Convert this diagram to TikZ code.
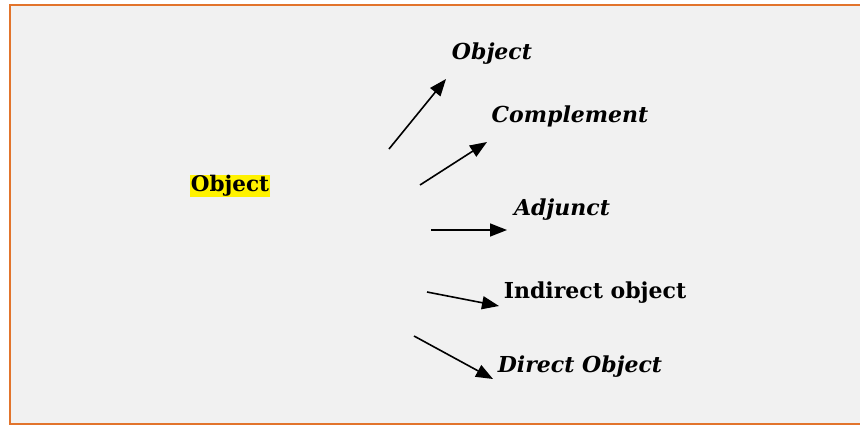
\documentclass[tikz,border=0pt]{standalone}
\usepackage{fontspec}
\setmainfont{DejaVu Serif}
\usetikzlibrary{arrows.meta}
\definecolor{framebg}{RGB}{241,241,241}
\definecolor{frameline}{RGB}{226,116,44}

\begin{document}
\begin{tikzpicture}[x=1pt,y=-1pt,
  lbl/.style={font=\fontsize{22}{26}\selectfont\bfseries\itshape,inner sep=0pt},
  arr/.style={-{Triangle[length=17pt,width=13pt]},line width=1.6pt}]
\clip (0,0) rectangle (860,426);
\fill[white] (0,0) rectangle (860,426);
\draw[frameline,fill=framebg,line width=2.2pt] (10,5) rectangle (875,424);
\node[fill=yellow,inner sep=0.5pt,font=\fontsize{21.5}{26}\selectfont\bfseries] (obj) at (230,186) {Object};
\node[lbl] (l1) at (492,54) {Object};
\node[lbl] (l2) at (570,116) {Complement};
\node[lbl] (l3) at (562,210) {Adjunct};
\node[lbl,font=\fontsize{22}{26}\selectfont\bfseries] (l4) at (595,293) {Indirect object};
\node[lbl] (l5) at (580,367) {Direct Object};
\coordinate (s1) at (389,149); \coordinate (e1) at (446,79);
\coordinate (s2) at (420,185); \coordinate (e2) at (487,142);
\coordinate (s3) at (431,230); \coordinate (e3) at (507,230);
\coordinate (s4) at (427,292); \coordinate (e4) at (499,306);
\coordinate (s5) at (414,336); \coordinate (e5) at (493,379);
\draw[arr] (s1) -- (e1);
\draw[arr] (s2) -- (e2);
\draw[arr] (s3) -- (e3);
\draw[arr] (s4) -- (e4);
\draw[arr] (s5) -- (e5);
\end{tikzpicture}
\end{document}
